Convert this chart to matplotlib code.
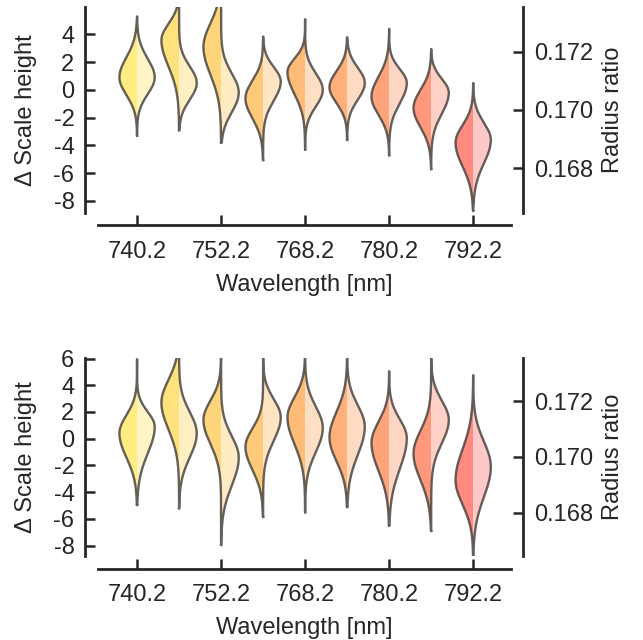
import numpy as np
import matplotlib.pyplot as plt

plt.rcParams['font.family'] = ['Liberation Sans', 'DejaVu Sans']
plt.rcParams['axes.unicode_minus'] = False
plt.rcParams['text.color'] = '0.15'
plt.rcParams['axes.labelcolor'] = '0.15'
plt.rcParams['xtick.color'] = '0.15'
plt.rcParams['ytick.color'] = '0.15'

wavelengths = ['740.2', '746.2', '752.2', '760.2', '768.2', '774.2', '780.2', '786.2', '792.2']
tick_labels = ['740.2', '752.2', '768.2', '780.2', '792.2']

left_colors = ['#FFEC82', '#FFE17E', '#FFD57C', '#FFC97A', '#FFBB78',
               '#FFAF79', '#FFA47A', '#FF977D', '#FF8A80']
right_colors = ['#FFF4C6', '#FFF0C3', '#FFEBC3', '#FFE5C3', '#FFDFC3',
                '#FFDBC4', '#FFD6C5', '#FFD0C5', '#FFC8C8']

# top panel: mode and spread of each half, plus tail extent
top_l_mode = [0.9, 3.6, 3.1, -0.6, 1.3, 0.2, -0.5, -1.3, -3.8]
top_l_sdlo = [1.27, 1.9, 2.0, 1.45, 1.6, 1.15, 1.3, 1.4, 1.7]
top_l_sdhi = [1.45, 1.15, 1.7, 1.27, 0.95, 1.15, 1.45, 1.3, 1.25]
top_r_mode = [0.9, 0.5, -0.2, 0.6, 0.0, 0.5, 0.5, -0.2, -3.6]
top_r_sdlo = [1.2, 1.2, 1.4, 1.36, 1.2, 1.2, 1.45, 1.5, 1.7]
top_r_sdhi = [1.35, 1.2, 1.4, 1.05, 1.2, 1.1, 1.0, 1.0, 1.25]
top_lo = [-3.3, -2.9, -3.8, -5.05, -4.3, -3.6, -4.7, -5.7, -8.7]
top_hi = [5.3, 7.0, 7.0, 3.85, 5.1, 3.8, 4.4, 2.95, 0.5]
top_yticks = [-8, -6, -4, -2, 0, 2, 4]

# bottom panel
bot_l_mode = [0.4, 2.7, 1.4, -0.6, 1.6, 0.1, -0.3, -1.1, -3.1]
bot_l_sdlo = [1.8, 2.0, 1.8, 1.73, 2.0, 1.78, 2.1, 2.0, 1.82]
bot_l_sdhi = [1.36, 1.7, 1.45, 1.36, 1.5, 1.9, 1.55, 1.7, 2.3]
bot_r_mode = [0.9, 0.4, -1.4, 1.6, 0.8, 0.9, 0.05, 1.4, -2.1]
bot_r_sdlo = [2.0, 1.8, 2.1, 1.73, 1.8, 2.1, 2.3, 1.73, 2.27]
bot_r_sdhi = [1.1, 1.6, 1.6, 1.36, 1.6, 1.6, 1.4, 1.45, 1.9]
bot_lo = [-4.95, -5.2, -7.95, -5.85, -5.5, -5.1, -6.5, -6.9, -8.7]
bot_hi = [5.95, 7.0, 7.0, 7.0, 7.0, 7.0, 5.05, 7.0, 4.75]
bot_yticks = [-8, -6, -4, -2, 0, 2, 4, 6]

rr_ticks = [0.168, 0.170, 0.172]

half_width = 0.42


def half_profile(y, mode, sd_lo, sd_hi):
    s = np.where(y < mode, sd_lo, sd_hi)
    return half_width * np.exp(-0.5 * ((y - mode) / s) ** 2)


def draw_panel(ax, l_mode, l_sdlo, l_sdhi, r_mode, r_sdlo, r_sdhi, lo, hi, ylim, yticks):
    for i in range(len(wavelengths)):
        y = np.linspace(lo[i], hi[i], 500)
        dl = half_profile(y, l_mode[i], l_sdlo[i], l_sdhi[i])
        dr = half_profile(y, r_mode[i], r_sdlo[i], r_sdhi[i])
        dl[0] = dl[-1] = 0
        dr[0] = dr[-1] = 0
        ax.fill_betweenx(y, i - dl, i, facecolor=left_colors[i], lw=0, zorder=2)
        ax.fill_betweenx(y, i, i + dr, facecolor=right_colors[i], lw=0, zorder=2)
        xs = np.concatenate([i - dl, (i + dr)[::-1]])
        ys = np.concatenate([y, y[::-1]])
        ax.plot(xs, ys, color='#4a4540', lw=1.7, alpha=0.85, zorder=3,
                solid_joinstyle='round')

    ax.set_xlim(-0.93, 8.9)
    ax.set_ylim(*ylim)
    ax.set_xticks([0, 2, 4, 6, 8])
    ax.set_xticklabels(tick_labels)
    ax.set_yticks(yticks)
    ax.set_xlabel('Wavelength [nm]', fontsize=17, labelpad=8)
    ax.set_ylabel('Δ Scale height', fontsize=17, labelpad=12)
    ax.tick_params(direction='in', length=7, width=1.8, labelsize=17, pad=8)
    ax.tick_params(axis='x', pad=11)
    for side in ['top', 'right']:
        ax.spines[side].set_visible(False)
    for side in ['left', 'bottom']:
        ax.spines[side].set_position(('outward', 9))
        ax.spines[side].set_linewidth(2)
        ax.spines[side].set_color('0.15')

    ax2 = ax.twinx()
    ax2.set_ylim(0.16645, 0.17355)
    ax2.set_yticks(rr_ticks)
    ax2.set_yticklabels(['%.3f' % t for t in rr_ticks])
    ax2.set_ylabel('Radius ratio', fontsize=17, labelpad=6)
    ax2.tick_params(direction='in', length=7, width=1.8, labelsize=17, pad=8)
    for side in ['top', 'left', 'bottom']:
        ax2.spines[side].set_visible(False)
    ax2.spines['right'].set_position(('outward', 9))
    ax2.spines['right'].set_linewidth(2)
    ax2.spines['right'].set_color('0.15')


fig = plt.figure(figsize=(6.43, 6.40), dpi=100)
ax_top = fig.add_axes([0.1524, 0.6672, 0.6423, 0.3219])
ax_bot = fig.add_axes([0.1524, 0.13125, 0.6423, 0.3094])

draw_panel(ax_top, top_l_mode, top_l_sdlo, top_l_sdhi,
           top_r_mode, top_r_sdlo, top_r_sdhi, top_lo, top_hi, (-8.87, 5.98), top_yticks)
draw_panel(ax_bot, bot_l_mode, bot_l_sdlo, bot_l_sdhi,
           bot_r_mode, bot_r_sdlo, bot_r_sdhi, bot_lo, bot_hi, (-8.78, 6.04), bot_yticks)

fig.savefig('out.png', dpi=100)
